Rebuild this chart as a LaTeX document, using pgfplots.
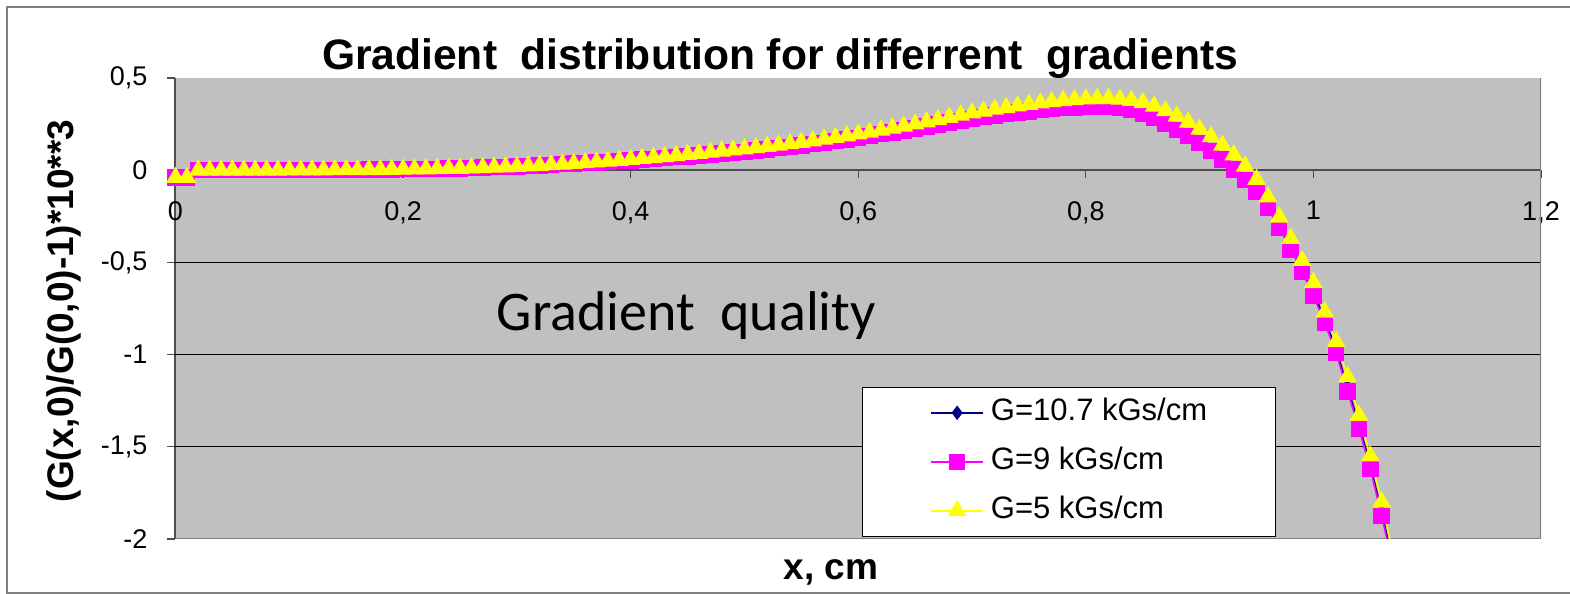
\documentclass[border=0pt]{standalone}
\usepackage{fontspec}
\setmainfont{Liberation Sans}
\newfontfamily\carlito{Carlito}
\usepackage{pgfplots}
\usepackage{pgfplotstable}
\pgfplotsset{compat=1.18}
\definecolor{plotgray}{RGB}{192,192,192}
\definecolor{navyblue}{RGB}{0,0,128}
\definecolor{pmag}{RGB}{255,0,255}
\definecolor{pyel}{RGB}{255,255,0}
\definecolor{axisdark}{RGB}{77,77,77}
\definecolor{framegray}{RGB}{128,128,128}

\pgfplotstableread{
x b m y
0.00 -0.040 -0.040 -0.040
0.01 -0.040 -0.040 -0.040
0.02 0.000 0.000 0.000
0.03 0.000 0.000 0.000
0.04 0.000 0.000 0.000
0.05 0.000 0.000 0.000
0.06 0.000 0.000 0.000
0.07 0.000 0.000 0.000
0.08 0.000 0.000 0.000
0.09 0.000 0.000 0.000
0.10 0.001 0.001 0.001
0.11 0.001 0.001 0.001
0.12 0.001 0.001 0.001
0.13 0.001 0.001 0.001
0.14 0.002 0.002 0.002
0.15 0.002 0.002 0.002
0.16 0.002 0.002 0.002
0.17 0.003 0.003 0.003
0.18 0.003 0.003 0.003
0.19 0.004 0.004 0.004
0.20 0.005 0.005 0.005
0.21 0.006 0.006 0.006
0.22 0.007 0.007 0.007
0.23 0.008 0.008 0.008
0.24 0.009 0.009 0.009
0.25 0.010 0.010 0.010
0.26 0.012 0.012 0.012
0.27 0.014 0.014 0.014
0.28 0.016 0.016 0.016
0.29 0.018 0.018 0.018
0.30 0.020 0.020 0.020
0.31 0.023 0.023 0.023
0.32 0.026 0.026 0.026
0.33 0.029 0.029 0.029
0.34 0.032 0.032 0.032
0.35 0.036 0.036 0.036
0.36 0.039 0.039 0.040
0.37 0.042 0.042 0.044
0.38 0.046 0.046 0.048
0.39 0.050 0.050 0.053
0.40 0.053 0.053 0.058
0.41 0.057 0.057 0.063
0.42 0.061 0.061 0.068
0.43 0.065 0.065 0.073
0.44 0.070 0.070 0.079
0.45 0.075 0.075 0.085
0.46 0.080 0.080 0.091
0.47 0.085 0.085 0.097
0.48 0.090 0.090 0.103
0.49 0.095 0.095 0.109
0.50 0.100 0.100 0.115
0.51 0.106 0.106 0.122
0.52 0.112 0.112 0.129
0.53 0.119 0.119 0.136
0.54 0.126 0.126 0.143
0.55 0.133 0.133 0.151
0.56 0.141 0.141 0.159
0.57 0.149 0.149 0.168
0.58 0.158 0.158 0.177
0.59 0.167 0.167 0.186
0.60 0.176 0.176 0.196
0.61 0.185 0.185 0.206
0.62 0.195 0.195 0.217
0.63 0.205 0.205 0.228
0.64 0.216 0.216 0.239
0.65 0.226 0.226 0.250
0.66 0.237 0.237 0.262
0.67 0.248 0.248 0.274
0.68 0.258 0.258 0.286
0.69 0.268 0.268 0.298
0.70 0.278 0.278 0.310
0.71 0.287 0.287 0.320
0.72 0.296 0.296 0.330
0.73 0.304 0.304 0.339
0.74 0.312 0.312 0.348
0.75 0.319 0.319 0.356
0.76 0.326 0.326 0.364
0.77 0.332 0.332 0.371
0.78 0.337 0.337 0.377
0.79 0.341 0.341 0.382
0.80 0.344 0.344 0.386
0.81 0.345 0.345 0.388
0.82 0.344 0.344 0.388
0.83 0.338 0.338 0.385
0.84 0.326 0.326 0.378
0.85 0.308 0.308 0.366
0.86 0.283 0.283 0.347
0.87 0.253 0.253 0.322
0.88 0.219 0.219 0.293
0.89 0.186 0.186 0.260
0.90 0.147 0.147 0.222
0.91 0.104 0.104 0.181
0.92 0.057 0.057 0.135
0.93 0.004 0.004 0.083
0.94 -0.054 -0.054 0.022
0.95 -0.097 -0.118 -0.050
0.96 -0.187 -0.205 -0.145
0.97 -0.297 -0.315 -0.255
0.98 -0.412 -0.430 -0.370
0.99 -0.532 -0.550 -0.490
1.00 -0.659 -0.680 -0.610
1.01 -0.812 -0.830 -0.770
1.02 -0.972 -0.990 -0.930
1.03 -1.176 -1.200 -1.120
1.04 -1.379 -1.400 -1.330
1.05 -1.599 -1.620 -1.550
1.06 -1.852 -1.875 -1.800
1.07 -2.129 -2.150 -2.080
}\datatable

\begin{document}
\begin{tikzpicture}
\path[use as bounding box] (-87.75pt,-27.5pt) rectangle (697.25pt,269.5pt);
\draw[framegray, line width=1pt] (700pt,266pt) -- (-84.25pt,266pt) -- (-84.25pt,-27pt) -- (700pt,-27pt);
\begin{axis}[
  at={(0pt,0pt)}, anchor=south west,
  scale only axis, width=682.75pt, height=230.5pt,
  xmin=0, xmax=1.2, ymin=-2, ymax=0.5,
  axis background/.style={fill=plotgray},
  axis x line=middle, axis y line=left,
  axis line style={-},
  x axis line style={axisdark, line width=0.7pt},
  y axis line style={axisdark, line width=1pt},
  xtick={0,0.2,0.4,0.6,0.8,1,1.2},
  xticklabels={0,{0,2},{0,4},{0,6},{0,8},1,{1,2}},
  ytick={-2,-1.5,-1,-0.5,0,0.5},
  yticklabels={-2,{-1,5},-1,{-0,5},0,{0,5}},
  extra y ticks={-1.5,-1,-0.5},
  extra y tick labels={},
  extra y tick style={grid=major, major grid style={black, line width=0.5pt}, major tick length=0pt},
  tick align=outside,
  major tick length=4pt,
  tick style={axisdark, line width=0.6pt},
  hide obscured x ticks=false, hide obscured y ticks=false,
  ticklabel style={font=\fontsize{13.5}{16}\selectfont},
  xticklabel style={yshift=-8pt},
  yticklabel style={xshift=-6.5pt},
  legend style={at={(0.5027,0.330)}, anchor=north west, draw=black, fill=white,
    font=\fontsize{15.5}{18}\selectfont, inner xsep=34pt, inner ysep=5pt,
    row sep=9pt, nodes={inner sep=0pt, text height=11.5pt, text depth=4pt},
    /tikz/every odd column/.append style={column sep=3.5pt}},
  legend cell align=left,
  legend image code/.code={\draw[mark repeat=2,mark phase=2,#1] plot coordinates {(0pt,0pt) (13pt,0pt) (26pt,0pt)};},
]
\draw[framegray, line width=1.3pt] (rel axis cs:0,0) -- (rel axis cs:1,0) -- (rel axis cs:1,1);
\addplot[navyblue, line width=0.8pt, mark=diamond*, mark size=3pt, mark options={solid, fill=navyblue, draw=navyblue}] table[x=x,y=b]{\datatable};
\addlegendentry{G=10.7 kGs/cm}
\addplot[pmag, line width=0.8pt, mark=square*, mark size=3.7pt, mark options={solid, fill=pmag, draw=pmag}] table[x=x,y=m]{\datatable};
\addlegendentry{G=9 kGs/cm}
\addplot[pyel, line width=0.8pt, mark=triangle*, mark size=4.6pt, mark options={solid, fill=pyel, draw=pyel}] table[x=x,y=y]{\datatable};
\addlegendentry{G=5 kGs/cm}
\node[font=\carlito\fontsize{28}{32}\selectfont, anchor=base] at (axis cs:0.449,-0.87) {Gradient\ \ quality};
\end{axis}
\node[font=\bfseries\fontsize{21.3}{25}\selectfont, anchor=base] at (302.25pt,234.5pt) {Gradient\ \ distribution for differrent\ \ gradients};
\node[font=\bfseries\fontsize{18.5}{22}\selectfont, anchor=base, rotate=90] at (-50.75pt,114pt) {(G(x,0)/G(0,0)-1)*10**3};
\node[font=\bfseries\fontsize{18.5}{22}\selectfont, anchor=base] at (327.75pt,-20.5pt) {x, cm};
\end{tikzpicture}
\end{document}
